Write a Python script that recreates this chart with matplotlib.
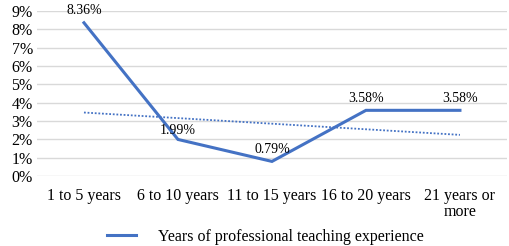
import matplotlib
matplotlib.use('Agg')
import matplotlib.pyplot as plt
from matplotlib.ticker import PercentFormatter

plt.rcParams['font.family'] = ['Liberation Serif', 'DejaVu Serif']

# data (percent)
categories = ['1 to 5 years', '6 to 10 years', '11 to 15 years', '16 to 20 years', '21 years or\nmore']
values = [8.36, 1.99, 0.79, 3.58, 3.58]
labels = ['8.36%', '1.99%', '0.79%', '3.58%', '3.58%']
trend_ends = [3.46, 2.24]   # dotted trend line at first and last category
series_name = 'Years of professional teaching experience'

blue = '#4472C4'
x = list(range(len(categories)))

fig = plt.figure(figsize=(5.1, 2.46), dpi=100)
ax = fig.add_axes([0.0725, 0.285, 0.9215, 0.67])

line, = ax.plot(x, values, color=blue, lw=2.2, solid_joinstyle='miter', label=series_name)
ax.plot([x[0], x[-1]], trend_ends, color=blue, lw=1.3, ls=(0, (1, 1)))

offsets = [4, 1.5, 4, 4, 4]
for xi, v, lab, off in zip(x, values, labels, offsets):
    ax.annotate(lab, (xi, v), xytext=(0, off), textcoords='offset points',
                ha='center', va='bottom', fontsize=10)

ax.set_xlim(-0.5, len(categories) - 0.5)
ax.set_ylim(0, 9)
ax.set_yticks(range(0, 10))
ax.yaxis.set_major_formatter(PercentFormatter(decimals=0))
ax.set_xticks(x)
ax.set_xticklabels(categories, linespacing=1.0)
ax.tick_params(axis='both', length=0, labelsize=11.5)
ax.tick_params(axis='x', pad=9)
ax.tick_params(axis='y', pad=3)
ax.grid(axis='y', color='#D9D9D9', lw=1)
ax.set_axisbelow(True)
for s in ax.spines.values():
    s.set_visible(False)

fig.legend(handles=[line], loc='center', bbox_to_anchor=(0.52, 0.037), frameon=False,
           fontsize=11.5, handlelength=1.8, handletextpad=1.4)

fig.savefig('out.png', dpi=100)
